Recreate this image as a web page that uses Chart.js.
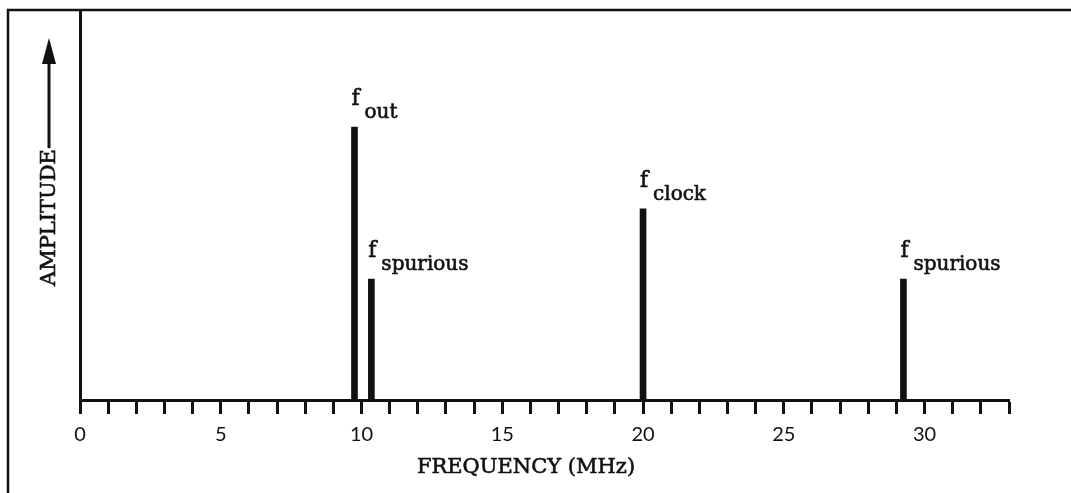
<!DOCTYPE html>
<html>
<head>
<meta charset="utf-8">
<script src="https://cdn.jsdelivr.net/npm/chart.js@4.4.1/dist/chart.umd.min.js"></script>
<style>
html, body { margin: 0; padding: 0; background: #fff; }
#wrap { width: 1071px; height: 493px; position: relative; }
</style>
</head>
<body>
<div id="wrap"><canvas id="spectrum"></canvas></div>
<script>
// spectral lines, frequency in MHz, amplitude in arbitrary units (0..10)
const freqs = [9.75, 10.35, 20, 29.25];
const amps = [7.0, 3.1, 4.9, 3.1];
const subs = ['out', 'spurious', 'clock', 'spurious'];
const tickLabels = [0, 5, 10, 15, 20, 25, 30];
const xTitle = 'FREQUENCY (MHz)';

const ink = '#111';
const serif = '"DejaVu Serif", "Liberation Serif", serif';

// heavier text, the scan has thick strokes
function inkText(ctx, txt, x, y)
{
    ctx.fillText(txt, x, y);
    ctx.strokeText(txt, x, y);
}

// outer frame, only top and left edges are visible in the scan
const framePlugin = {
    id: 'frame',
    beforeDraw(chart)
    {
        const ctx = chart.ctx;
        ctx.save();
        ctx.strokeStyle = ink;
        ctx.lineWidth = 2.5;
        ctx.beginPath();
        ctx.moveTo(8, 493);
        ctx.lineTo(8, 10);
        ctx.lineTo(1071, 10);
        ctx.stroke();
        ctx.restore();
    }
};

// "f" with subscript above each line
const spikeLabels = {
    id: 'spikeLabels',
    afterDatasetsDraw(chart)
    {
        const ctx = chart.ctx;
        const xs = chart.scales.x;
        const ys = chart.scales.y;
        ctx.save();
        ctx.fillStyle = ink;
        ctx.strokeStyle = ink;
        ctx.lineWidth = 0.6;
        ctx.textAlign = 'left';
        ctx.textBaseline = 'alphabetic';
        freqs.forEach((f, i) => {
            const px = xs.getPixelForValue(f);
            const py = ys.getPixelForValue(amps[i]);
            ctx.font = '22px ' + serif;
            inkText(ctx, 'f', px - 3, py - 22);
            ctx.font = '20px ' + serif;
            inkText(ctx, subs[i], px + 10, py - 9);
        });
        ctx.restore();
    }
};

// axis titles: rotated "AMPLITUDE" with arrow, and the frequency title
const axisTitles = {
    id: 'axisTitles',
    afterDraw(chart)
    {
        const ctx = chart.ctx;
        ctx.save();
        ctx.fillStyle = ink;
        ctx.strokeStyle = ink;
        ctx.lineWidth = 0.6;
        ctx.font = '21px ' + serif;
        ctx.textAlign = 'center';
        ctx.textBaseline = 'alphabetic';
        inkText(ctx, xTitle, 526, 473);

        ctx.translate(49, 286);
        ctx.rotate(-Math.PI / 2);
        ctx.textAlign = 'left';
        ctx.textBaseline = 'middle';
        inkText(ctx, 'AMPLITUDE', 0, 1);
        const w = ctx.measureText('AMPLITUDE').width;
        ctx.lineWidth = 3;
        ctx.beginPath();
        ctx.moveTo(w + 1, 0);
        ctx.lineTo(228, 0);
        ctx.stroke();
        ctx.beginPath();
        ctx.moveTo(248, 0);
        ctx.lineTo(222, -7);
        ctx.lineTo(222, 7);
        ctx.closePath();
        ctx.fill();
        ctx.restore();
    }
};

const points = freqs.map((f, i) => ({ x: f, y: amps[i] }));

new Chart(document.getElementById('spectrum'), {
    type: 'bar',
    data: {
        datasets: [{
            data: points,
            backgroundColor: ink,
            borderWidth: 0,
            barThickness: 6
        }]
    },
    options: {
        responsive: true,
        maintainAspectRatio: false,
        animation: false,
        events: [],
        layout: { padding: { left: 80, top: 10, right: 62, bottom: 0 } },
        plugins: {
            legend: { display: false },
            tooltip: { enabled: false }
        },
        scales: {
            x: {
                type: 'linear',
                min: 0,
                max: 33,
                offset: false,
                afterFit: (s) => { s.height = 93; },
                grid: {
                    offset: false,
                    drawOnChartArea: false,
                    drawTicks: true,
                    tickLength: 14,
                    tickWidth: 3,
                    tickColor: ink
                },
                border: { display: true, width: 3, color: ink },
                ticks: {
                    stepSize: 1,
                    autoSkip: false,
                    maxRotation: 0,
                    padding: 9,
                    color: ink,
                    font: { family: 'Lato, "DejaVu Sans", sans-serif', size: 20 },
                    callback: (v) => tickLabels.includes(v) ? String(v) : ''
                },
                title: { display: false }
            },
            y: {
                min: 0,
                max: 10,
                afterFit: (s) => { s.width = 0; },
                grid: { display: false, drawTicks: false },
                border: { display: true, width: 3, color: ink },
                ticks: { display: false }
            }
        }
    },
    plugins: [framePlugin, spikeLabels, axisTitles]
});
</script>
</body>
</html>
